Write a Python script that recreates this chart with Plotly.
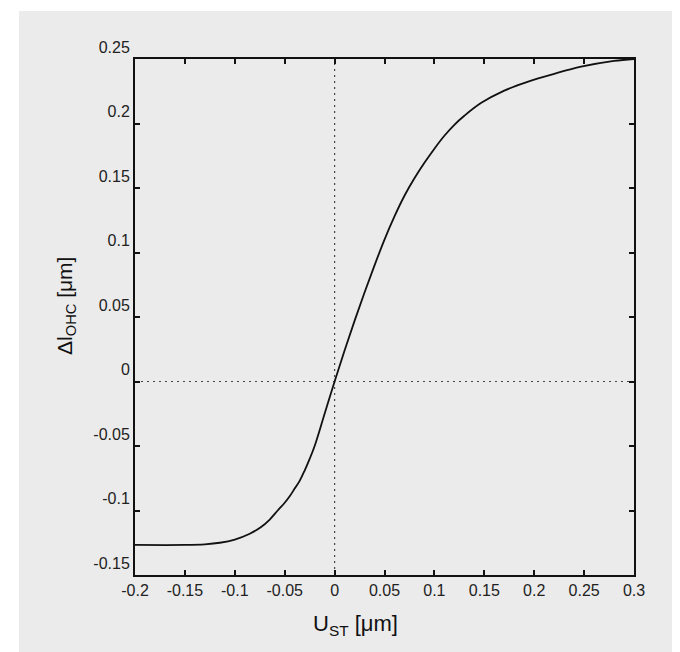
import plotly.graph_objects as go

# Data
u_st = [-0.2, -0.15, -0.13, -0.115, -0.1, -0.085, -0.074, -0.065, -0.057, -0.05,
        -0.045, -0.04, -0.035, -0.03, -0.025, -0.02, -0.01, 0.0, 0.01, 0.02,
        0.03, 0.04, 0.05, 0.06, 0.07, 0.08, 0.09, 0.1, 0.11, 0.12,
        0.13, 0.147, 0.17, 0.194, 0.22, 0.247, 0.28, 0.3]
dl_ohc = [-0.1267, -0.1267, -0.1262, -0.125, -0.1225, -0.118, -0.113, -0.107, -0.100, -0.094,
          -0.089, -0.083, -0.077, -0.069, -0.060, -0.050, -0.025, 0.0, 0.024, 0.047,
          0.069, 0.090, 0.110, 0.128, 0.144, 0.1575, 0.1695, 0.1805, 0.1905, 0.199,
          0.206, 0.216, 0.2255, 0.2325, 0.2385, 0.244, 0.2485, 0.25]

x_ticks = [-0.2, -0.15, -0.1, -0.05, 0, 0.05, 0.1, 0.15, 0.2, 0.25, 0.3]
x_labels = ["-0.2", "-0.15", "-0.1", "-0.05", "0", "0.05", "0.1", "0.15", "0.2", "0.25", "0.3"]
y_ticks = [-0.15, -0.1, -0.05, 0, 0.05, 0.1, 0.15, 0.2, 0.25]
y_labels = ["-0.15", "-0.1", "-0.05", "0", "0.05", "0.1", "0.15", "0.2", "0.25"]

x_range = [-0.2, 0.3]
y_range = [-0.15, 0.25]

GRAY = "#ebebeb"
FONT = "Liberation Sans, Arial, sans-serif"

fig = go.Figure()

# dotted zero lines
fig.add_trace(go.Scatter(x=[0, 0], y=y_range, mode="lines",
                         line=dict(color="#444444", width=1.2, dash="2px,4px"),
                         showlegend=False, hoverinfo="skip"))
fig.add_trace(go.Scatter(x=x_range, y=[0, 0], mode="lines",
                         line=dict(color="#444444", width=1.2, dash="2px,4px"),
                         showlegend=False, hoverinfo="skip"))

fig.add_trace(go.Scatter(x=u_st, y=dl_ohc, mode="lines",
                         line=dict(color="#111111", width=1.8, shape="spline", smoothing=1.0),
                         showlegend=False))

L, R, T, B = 127, 54, 51, 85
W, H = 680, 652
pw, ph = W - L - R, H - T - B

fig.add_shape(type="rect", xref="paper", yref="paper", layer="below",
              x0=(11 - L) / pw, x1=(676 - L) / pw,
              y0=((H - B) - 650) / ph, y1=((H - B) - 3) / ph,
              fillcolor=GRAY, line=dict(width=0))

axis_common = dict(showline=True, linecolor="#111111", linewidth=2, mirror="ticks",
                   ticks="inside", ticklen=5, tickwidth=1.5, tickcolor="#111111",
                   showgrid=False, zeroline=False,
                   tickfont=dict(family=FONT, size=16, color="#222222"))

fig.update_xaxes(range=x_range, tickvals=x_ticks, ticktext=x_labels, **axis_common)
fig.update_yaxes(range=y_range, tickvals=y_ticks, ticktext=y_labels,
                 ticklabelposition="outside top", **axis_common)

fig.add_annotation(text="U<sub>ST</sub> [\u03bcm]", xref="paper", yref="paper",
                   x=(347 - L) / pw, y=((H - B) - 617) / ph, showarrow=False,
                   font=dict(family=FONT, size=22, color="#111111"),
                   xanchor="center", yanchor="middle")
fig.add_annotation(text="\u0394l<sub>OHC</sub> [\u03bcm]", xref="paper", yref="paper",
                   x=(58 - L) / pw, y=((H - B) - 298) / ph, showarrow=False, textangle=-90,
                   font=dict(family=FONT, size=21, color="#111111"),
                   xanchor="center", yanchor="middle")

fig.update_layout(width=W, height=H, margin=dict(l=L, r=R, t=T, b=B, autoexpand=False),
                  paper_bgcolor="white", plot_bgcolor=GRAY)

fig.write_html("out.html")
